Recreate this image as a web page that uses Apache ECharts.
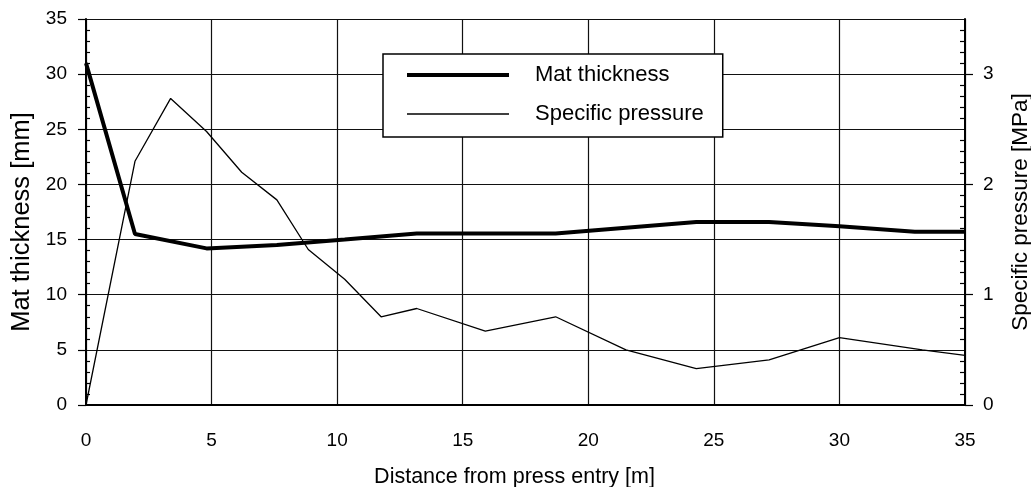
<!DOCTYPE html>
<html>
<head>
<meta charset="utf-8">
<script src="https://cdn.jsdelivr.net/npm/echarts@6/dist/echarts.min.js"></script>
<style>
html,body{margin:0;padding:0;background:#fff;}
#chart{width:1031px;height:487px;}
</style>
</head>
<body>
<div id="chart"></div>
<script>
// Data
var matDistance = [0, 1.95, 4.8, 7.6, 10.3, 13.17, 18.7, 24.3, 27.2, 30, 33, 35];
var matThickness = [31, 15.5, 14.2, 14.5, 15.0, 15.55, 15.55, 16.6, 16.6, 16.2, 15.7, 15.7];

var pressureDistance = [0, 1.95, 3.37, 4.8, 6.2, 7.6, 8.85, 10.3, 11.75, 13.17, 15.9, 18.7, 21.5, 24.3, 27.2, 30, 33.3, 35];
var specificPressure = [0, 2.21, 2.78, 2.48, 2.11, 1.86, 1.41, 1.14, 0.80, 0.875, 0.67, 0.80, 0.50, 0.33, 0.41, 0.61, 0.50, 0.45];

var leftTicks = [0, 5, 10, 15, 20, 25, 30, 35];
var rightTicks = [0, 1, 2, 3];
var xTicks = [0, 5, 10, 15, 20, 25, 30, 35];

var seriesNames = ['Mat thickness', 'Specific pressure'];
var axisNames = ['Distance from press entry [m]', 'Mat thickness [mm]', 'Specific pressure [MPa]'];

function pairs(xs, ys) {
  return xs.map(function (x, i) { return [x, ys[i]]; });
}

var FONT = '"Liberation Sans", Arial, Helvetica, sans-serif';
var chart = echarts.init(document.getElementById('chart'), null, {renderer: 'canvas'});

chart.setOption({
  backgroundColor: '#ffffff',
  animation: false,
  textStyle: {fontFamily: FONT, color: '#000'},
  grid: {left: 86, right: 66, top: 19, bottom: 82, containLabel: false, outerBoundsMode: 'none'},
  legend: {
    orient: 'vertical',
    left: 383,
    top: 54,
    padding: [10, 19, 12, 22],
    backgroundColor: '#fff',
    borderColor: '#000',
    borderWidth: 1.5,
    borderRadius: 0,
    itemWidth: 102,
    itemHeight: 14,
    itemGap: 17,
    selectedMode: false,
    textStyle: {fontFamily: FONT, fontSize: 22, color: '#000', padding: [0, 0, 0, 21]},
    data: [
      {name: seriesNames[0], lineStyle: {width: 4, color: '#000'}, itemStyle: {color: '#000', opacity: 0}},
      {name: seriesNames[1], lineStyle: {width: 1.3, color: '#000'}, itemStyle: {color: '#000', opacity: 0}}
    ]
  },
  xAxis: {
    type: 'value',
    min: 0, max: 35, interval: 5,
    name: axisNames[0],
    nameLocation: 'middle',
    nameGap: 61,
    nameTextStyle: {fontFamily: FONT, fontSize: 21.5, color: '#000', padding: [0, 22, 0, 0]},
    axisLine: {show: true, onZero: false, lineStyle: {color: '#000', width: 2}},
    axisTick: {show: false},
    axisLabel: {
      margin: 26, fontSize: 19, color: '#000', fontFamily: FONT,
      customValues: xTicks
    },
    splitLine: {show: true, lineStyle: {color: '#111', width: 1.2}}
  },
  yAxis: [
    {
      type: 'value',
      position: 'left',
      min: 0, max: 35, interval: 5,
      name: axisNames[1],
      nameLocation: 'middle',
      nameRotate: 90,
      nameGap: 50,
      nameTextStyle: {fontFamily: FONT, fontSize: 25.5, color: '#000', padding: [0, 20, 0, 0]},
      axisLine: {show: true, onZero: false, lineStyle: {color: '#000', width: 2}},
      axisTick: {show: true, inside: false, length: 8, lineStyle: {color: '#000', width: 1.2}},
      minorTick: {show: true, splitNumber: 5, length: -4, lineStyle: {color: '#000', width: 1.2}},
      axisLabel: {margin: 19, fontSize: 19, color: '#000', fontFamily: FONT, customValues: leftTicks},
      splitLine: {show: true, lineStyle: {color: '#111', width: 1.2}}
    },
    {
      type: 'value',
      position: 'right',
      min: 0, max: 3.5, interval: 0.5,
      name: axisNames[2],
      nameLocation: 'middle',
      nameRotate: 90,
      nameGap: 44,
      nameTextStyle: {fontFamily: FONT, fontSize: 22.5, color: '#000'},
      axisLine: {show: true, onZero: false, lineStyle: {color: '#000', width: 2}},
      axisTick: {show: true, inside: false, length: 8, customValues: rightTicks, lineStyle: {color: '#000', width: 1.2}},
      minorTick: {show: true, splitNumber: 5, length: -5, lineStyle: {color: '#000', width: 1.2}},
      axisLabel: {margin: 18, fontSize: 19, color: '#000', fontFamily: FONT, customValues: rightTicks},
      splitLine: {show: false}
    }
  ],
  series: [
    {
      name: seriesNames[0],
      type: 'line',
      yAxisIndex: 0,
      symbol: 'none',
      showSymbol: false,
      lineStyle: {color: '#000', width: 4},
      itemStyle: {color: '#000'},
      data: pairs(matDistance, matThickness),
      z: 3
    },
    {
      name: seriesNames[1],
      type: 'line',
      yAxisIndex: 1,
      symbol: 'none',
      showSymbol: false,
      lineStyle: {color: '#000', width: 1.3},
      itemStyle: {color: '#000'},
      data: pairs(pressureDistance, specificPressure),
      z: 2
    }
  ]
});
</script>
</body>
</html>
